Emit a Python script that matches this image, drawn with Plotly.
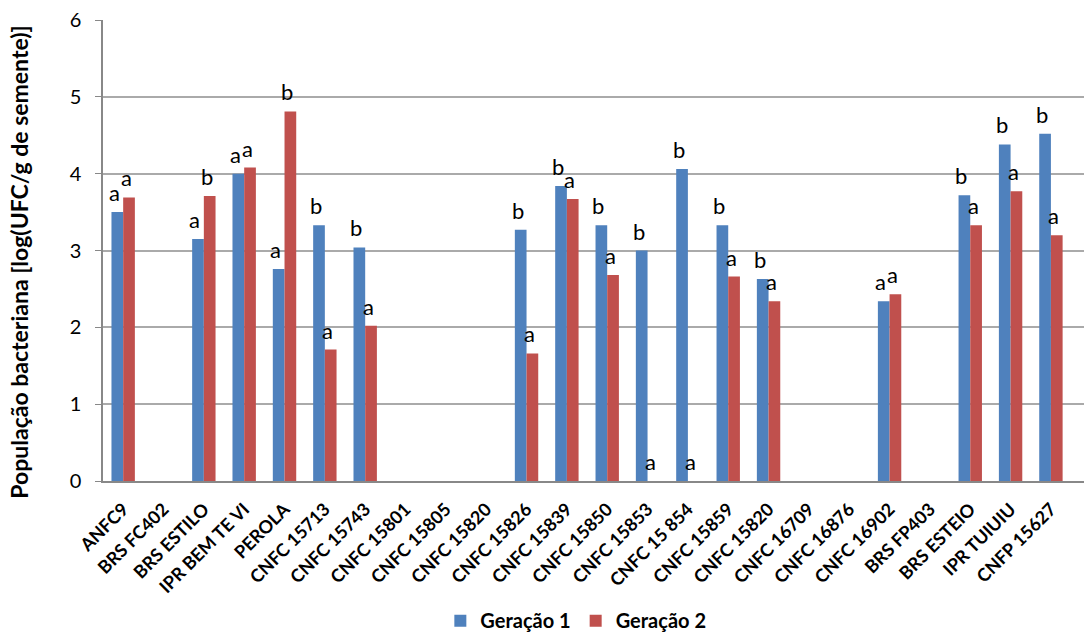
import plotly.graph_objects as go

categories = ["ANFC9", "BRS FC402", "BRS ESTILO", "IPR BEM TE VI", "PEROLA",
              "CNFC 15713", "CNFC 15743", "CNFC 15801", "CNFC 15805", "CNFC 15820 ",
              "CNFC 15826", "CNFC 15839", "CNFC 15850", "CNFC 15853", "CNFC 15 854",
              "CNFC 15859", "CNFC 15820", "CNFC 16709", "CNFC 16876", "CNFC 16902",
              "BRS FP403", "BRS ESTEIO", "IPR TUIUIU", "CNFP 15627"]
tick_labels = [c.strip() for c in categories]

geracao1 = [3.50, None, 3.15, 4.00, 2.76, 3.33, 3.04, None, None, None,
            3.27, 3.84, 3.33, 3.00, 4.06, 3.33, 2.63, None, None, 2.34,
            None, 3.72, 4.38, 4.52]
geracao2 = [3.69, None, 3.71, 4.08, 4.81, 1.71, 2.02, None, None, None,
            1.66, 3.67, 2.68, 0.0, 0.0, 2.66, 2.34, None, None, 2.43,
            None, 3.33, 3.77, 3.20]
letras1 = ["a", "", "a", "a", "a", "b", "b", "", "", "",
           "b", "b", "b", "b", "b", "b", "b", "", "", "a",
           "", "b", "b", "b"]
letras2 = ["a", "", "b", "a", "b", "a", "a", "", "", "",
           "a", "a", "a", "a", "a", "a", "a", "", "", "a",
           "", "a", "a", "a"]

y_title = "População bacteriana [log(UFC/g de semente)]"

BLUE = "#4F81BD"
RED = "#C0504D"
FONT = "Lato"

fig = go.Figure()
fig.add_trace(go.Bar(x=categories, y=geracao1, name="Geração 1",
                     marker=dict(color=BLUE, line=dict(width=0))))
fig.add_trace(go.Bar(x=categories, y=geracao2, name="Geração 2",
                     marker=dict(color=RED, line=dict(width=0))))

bargap = 0.42
half = (1 - bargap) / 4.0
annotations = []
for i in range(len(categories)):
    for vals, lets, sign in ((geracao1, letras1, -1), (geracao2, letras2, 1)):
        if vals[i] is None or not lets[i]:
            continue
        annotations.append(dict(
            x=i + sign * half, y=vals[i], xref="x", yref="y",
            text=lets[i], showarrow=False, yanchor="bottom", xanchor="center",
            xshift=-3, yshift=4,
            font=dict(family=FONT, size=22, color="#000000")))

# y-axis title as a rotated paper annotation
annotations.append(dict(
    text=y_title, xref="paper", yref="paper", x=-0.086, y=0.475,
    xanchor="center", yanchor="middle", textangle=-90, showarrow=False,
    font=dict(family=FONT, size=23, color="#000000", weight="bold")))

fig.update_layout(
    width=1084, height=637,
    margin=dict(l=103, r=0, t=20, b=156, autoexpand=False),
    paper_bgcolor="white", plot_bgcolor="white",
    font=dict(family=FONT, color="#000000"),
    barmode="group", bargap=bargap, bargroupgap=0,
    annotations=annotations,
    legend=dict(orientation="h", x=0.482, xanchor="center", y=-0.303, yanchor="middle",
                font=dict(family=FONT, size=20, color="#000000", weight="bold"),
                itemwidth=30, traceorder="normal"),
    xaxis=dict(type="category", range=[-0.5, 23.82], tickmode="array",
               tickvals=categories, ticktext=tick_labels, tickangle=-45,
               tickfont=dict(family=FONT, size=18, color="#000000", weight="bold"),
               showline=True, linecolor="#888888", linewidth=1.5,
               showgrid=False, ticks="", automargin=False, ticklabelstandoff=9),
    yaxis=dict(range=[0, 6], dtick=1, tickfont=dict(family=FONT, size=20, color="#000000"),
               showline=True, linecolor="#888888", linewidth=1.5,
               gridcolor="#AAAAAA", gridwidth=1.5, ticks="outside", ticklen=6,
               tickcolor="#888888", zeroline=False, automargin=False,
               ticklabelstandoff=10),
)

fig.write_html("out.html", config={"displayModeBar": False},
               post_script="document.body.style.margin='0';document.body.style.overflow='hidden';")
